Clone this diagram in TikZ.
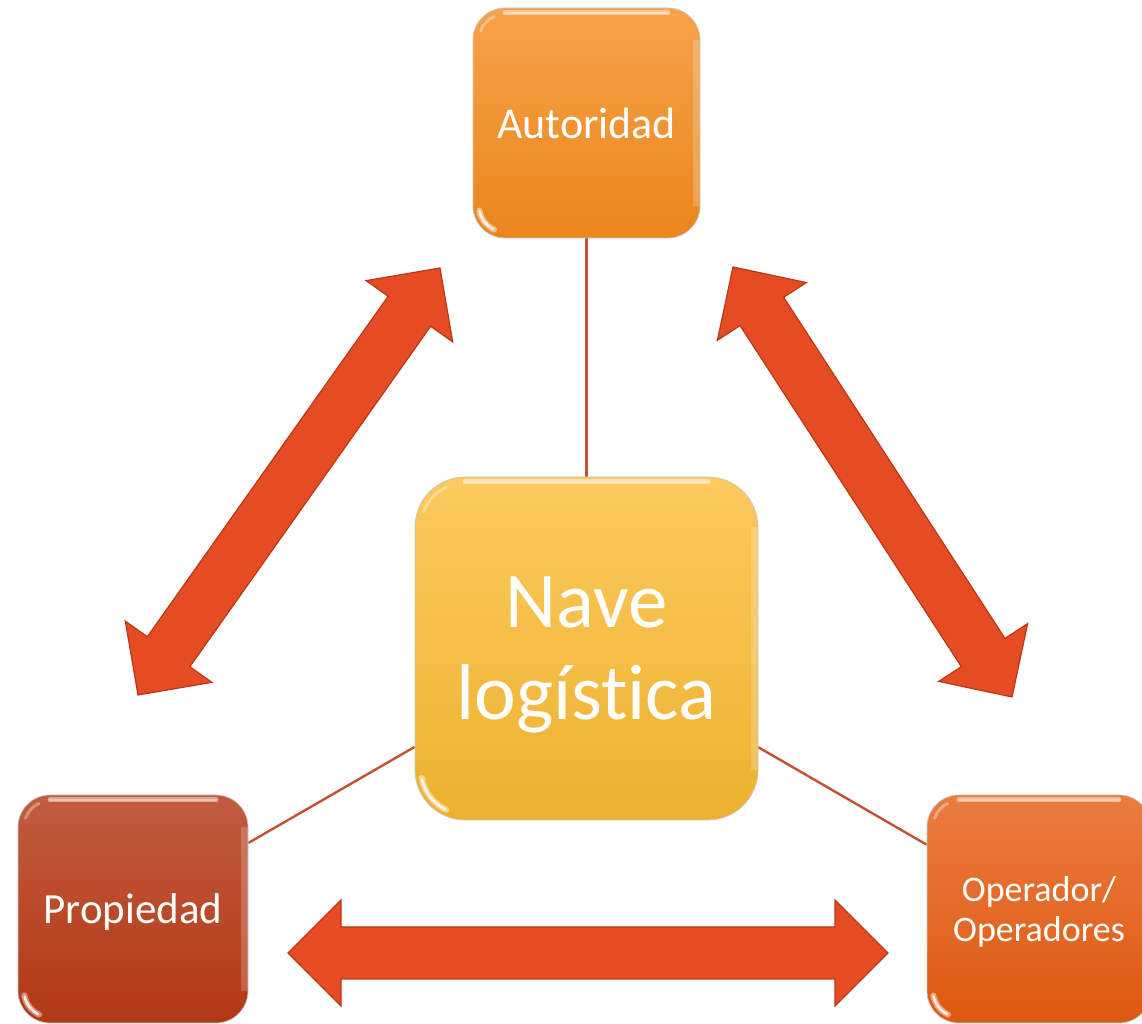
\documentclass[tikz,border=0pt]{standalone}
\usepackage{fontspec}
\setmainfont{Carlito}[Ligatures=NoCommon]
\usetikzlibrary{calc}

\definecolor{autTop}{RGB}{247,162,74}
\definecolor{autBot}{RGB}{234,134,28}
\definecolor{naveTop}{RGB}{253,201,94}
\definecolor{naveBot}{RGB}{236,178,46}
\definecolor{propTop}{RGB}{194,92,64}
\definecolor{propBot}{RGB}{178,56,20}
\definecolor{operTop}{RGB}{234,124,64}
\definecolor{operBot}{RGB}{222,88,16}
\definecolor{arrFill}{RGB}{229,76,35}
\definecolor{arrEdge}{RGB}{184,56,24}
\definecolor{linkCol}{RGB}{190,84,52}

\pgfdeclarelayer{paper}
\pgfdeclarelayer{links}
\pgfsetlayers{paper,links,main}

% block arrow dimensions
\def\arrHeadLen{53pt}
\def\arrHeadHalf{53pt}
\def\arrShaftHalf{26pt}

% double-headed block arrow between two tip coordinates
\newcommand\blockarrow[2]{%
  \coordinate (ba-a) at ($(#1)!\arrHeadLen!(#2)$);
  \coordinate (ba-b) at ($(#2)!\arrHeadLen!(#1)$);
  \filldraw[arrowbody] (#1)
    -- ($(ba-a)!\arrHeadHalf!90:(#2)$)
    -- ($(ba-a)!\arrShaftHalf!90:(#2)$)
    -- ($(ba-b)!\arrShaftHalf!-90:(#1)$)
    -- ($(ba-b)!\arrHeadHalf!-90:(#1)$)
    -- (#2)
    -- ($(ba-b)!\arrHeadHalf!90:(#1)$)
    -- ($(ba-b)!\arrShaftHalf!90:(#1)$)
    -- ($(ba-a)!\arrShaftHalf!-90:(#2)$)
    -- ($(ba-a)!\arrHeadHalf!-90:(#2)$)
    -- cycle;
}

\tikzset{
  arrowbody/.style={fill=arrFill, draw=arrEdge, line width=1.2pt, line join=miter},
  link/.style={draw=linkCol, line width=2.4pt},
  gloss/.style={
    path picture={
      \draw[white, opacity=0.45, line width=5pt, line cap=round]
        ([xshift=#1pt, yshift=-5pt]path picture bounding box.north west)
        -- ([xshift=-#1pt, yshift=-5pt]path picture bounding box.north east);
      \draw[white, opacity=0.35, line width=2pt, line cap=round]
        ([xshift=#1pt, yshift=-5pt]path picture bounding box.north west)
        -- ([xshift=-#1pt, yshift=-5pt]path picture bounding box.north east);
      \draw[white, opacity=0.2, line width=7pt]
        ([xshift=-4pt, yshift=-#1pt]path picture bounding box.north east)
        -- ([xshift=-4pt, yshift=#1pt]path picture bounding box.south east);
      \draw[white, opacity=0.45, line width=6pt, line cap=round]
        ([xshift={(#1)+(#1-6)*cos(190)}, yshift={(#1)+(#1-6)*sin(190)}]path picture bounding box.south west)
        arc[start angle=190, end angle=245, radius={(#1-6)*1pt}];
      \draw[white, opacity=0.8, line width=2.5pt, line cap=round]
        ([xshift={(#1)+(#1-6)*cos(192)}, yshift={(#1)+(#1-6)*sin(192)}]path picture bounding box.south west)
        arc[start angle=192, end angle=243, radius={(#1-6)*1pt}];
      \draw[white, opacity=0.35, line width=3pt, line cap=round]
        ([xshift={(#1)+(#1-6)*cos(115)}, yshift={-(#1)+(#1-6)*sin(115)}]path picture bounding box.north west)
        arc[start angle=115, end angle=160, radius={(#1-6)*1pt}];
    }},
  box/.style={rounded corners=#1pt, draw=black!22, line width=0.7pt,
    text=white, inner sep=0pt, align=center, text depth=0pt, gloss=#1},
}

\begin{document}
\begin{tikzpicture}[x=1pt, y=1pt]
  \useasboundingbox (0,0) rectangle (1142,1024);
  \clip (0,0) rectangle (1142,1024);
  \begin{pgfonlayer}{paper}
    \fill[white] (0,0) rectangle (1142,1024);
  \end{pgfonlayer}

  % the ship and the three parties
  \node[box=32, top color=autTop, bottom color=autBot,
        minimum width=227pt, minimum height=230pt,
        font=\fontsize{44}{53}\selectfont] (aut) at (586.5,901) {Autoridad};
  \node[box=50, top color=naveTop, bottom color=naveBot,
        minimum width=343pt, minimum height=343pt,
        font=\fontsize{79}{92}\selectfont] (nave) at (586.5,375.5) {Nave\\log\'{\i}st\kern0pt ica};
  \node[box=32, top color=propTop, bottom color=propBot,
        minimum width=230pt, minimum height=228pt,
        font=\fontsize{43}{52}\selectfont] (prop) at (133,115) {Propiedad};
  \node[box=32, top color=operTop, bottom color=operBot,
        minimum width=224pt, minimum height=228pt,
        font=\fontsize{36}{40}\selectfont] (oper) at (1039,115) {Operador/\\Operadores};

  % thin links behind the boxes
  \begin{pgfonlayer}{links}
    \path[link] (aut) -- (nave);
    \path[link] (nave) -- (prop);
    \path[link] (nave) -- (oper);
  \end{pgfonlayer}

  % arrow tips
  \coordinate (l1) at (138,329);
  \coordinate (l2) at (440,756);
  \coordinate (r1) at (733,757);
  \coordinate (r2) at (1012,327);
  \coordinate (b1) at (288,71);
  \coordinate (b2) at (888,71);

  \blockarrow{l1}{l2}
  \blockarrow{r1}{r2}
  \blockarrow{b1}{b2}
\end{tikzpicture}
\end{document}
